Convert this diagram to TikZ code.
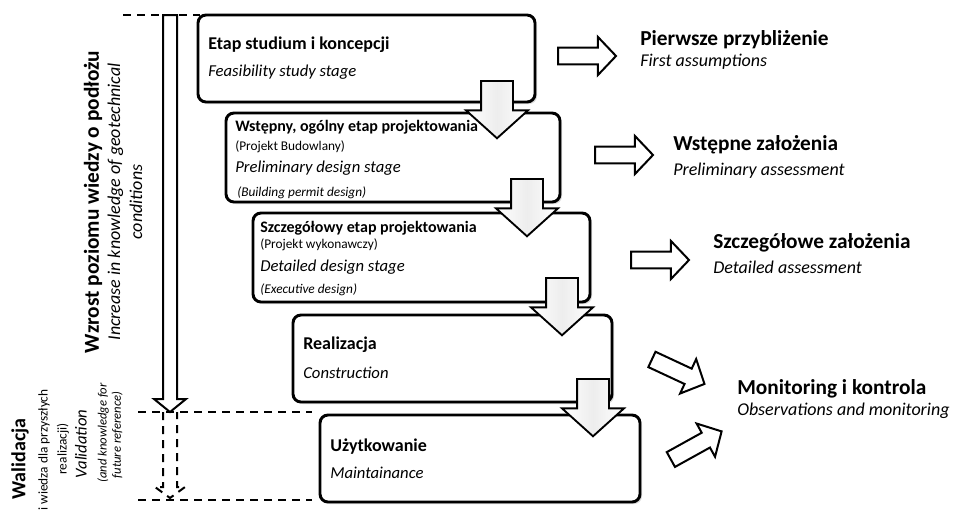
\documentclass[tikz,border=0pt]{standalone}
\usepackage{fontspec}
\setmainfont{Carlito}
\usetikzlibrary{shapes.arrows, shadows}

\begin{document}
\begin{tikzpicture}[x=0.75pt, y=-0.75pt,
        % Stage boxes
        stagebox/.style={draw, rounded corners=6pt, line width=2.2pt, fill=white,
                drop shadow={shadow xshift=1.5pt, shadow yshift=-1.5pt, opacity=0.3}},
        % Flow arrow between stages
        flowarr/.style={single arrow, draw, line width=1.4pt, rotate=-90,
                anchor=tail, minimum height=43pt, inner xsep=0pt, inner ysep=11.25pt,
                single arrow head extend=11.25pt, single arrow tip angle=96,
                left color=white, right color=white, middle color=gray!14},
        % Output arrow
        outarr/.style={single arrow, draw, line width=1.5pt, fill=white, anchor=tail,
                minimum height=43.5pt, inner xsep=0pt, inner ysep=5.6pt,
                single arrow head extend=7.9pt, single arrow tip angle=93},
        % Texts
        title/.style={anchor=west, inner sep=0pt, font=\fontsize{13.5pt}{16pt}\selectfont\bfseries},
        outtitle/.style={anchor=west, inner sep=0pt, font=\fontsize{16pt}{19pt}\selectfont\bfseries},
        subtitle/.style={anchor=west, inner sep=0pt, font=\fontsize{12pt}{14pt}\selectfont\bfseries},
        eng/.style={anchor=west, inner sep=0pt, font=\fontsize{12.5pt}{15pt}\selectfont\itshape},
        engbig/.style={anchor=west, inner sep=0pt, font=\fontsize{13.5pt}{16pt}\selectfont\itshape},
        note/.style={anchor=west, inner sep=0pt, font=\fontsize{10pt}{12pt}\selectfont},
        noteit/.style={anchor=west, inner sep=0pt, font=\fontsize{10pt}{12pt}\selectfont\itshape},
        sidelabel/.style={rotate=90, inner sep=0pt, align=center},
        guide/.style={dashed, dash pattern=on 6pt off 4.5pt, line width=1.5pt}
    ]
    \useasboundingbox (0,0) rectangle (953,515);

    % Stages
    \node[stagebox, minimum width=252.75pt, minimum height=65.25pt] (s1) at (366.5,58.5) {};
    \node[stagebox, minimum width=250.5pt, minimum height=66.75pt] (s2) at (393,157.5) {};
    \node[stagebox, minimum width=252.75pt, minimum height=66.75pt] (s3) at (421.5,257.5) {};
    \node[stagebox, minimum width=239.25pt, minimum height=65.25pt] (s4) at (452.5,358.5) {};
    \node[stagebox, minimum width=240pt, minimum height=65.25pt] (s5) at (480,458.5) {};

    % Stage texts
    \node[title] (t1) at (208,45) {Etap studium i koncepcji};
    \node[eng] (e1) at (208,72) {Feasibility study stage};

    \node[subtitle] (t2) at (235,127) {Wstępny, ogólny etap projektowania};
    \node[note] (p2) at (235,147) {(Projekt Budowlany)};
    \node[eng] (e2) at (235,168) {Preliminary design stage};
    \node[noteit] (q2) at (237,193) {(Building permit design)};

    \node[subtitle] (t3) at (260,228) {Szczegółowy etap projektowania};
    \node[note] (p3) at (260,245) {(Projekt wykonawczy)};
    \node[eng] (e3) at (260,267) {Detailed design stage};
    \node[noteit] (q3) at (260,290) {(Executive design)};

    \node[title] (t4) at (303,345) {Realizacja};
    \node[eng] (e4) at (303,373) {Construction};

    \node[title] (t5) at (330,447) {Użytkowanie};
    \node[eng] (e5) at (330,473) {Maintainance};

    % Flow arrows
    \node[flowarr] (a1) at (497,80) {};
    \node[flowarr] (a2) at (527,178) {};
    \node[flowarr] (a3) at (562,277) {};
    \node[flowarr] (a4) at (593,378) {};

    % Outputs
    \node[outarr] (r1) at (557,56) {};
    \node[outarr] (r2) at (594,155) {};
    \node[outarr] (r3) at (630,260) {};
    \node[outarr, rotate=-25] (m1) at (651,359) {};
    \node[outarr, rotate=29] (m2) at (670,460) {};

    \node[outtitle] (o1) at (640,40) {Pierwsze przybliżenie};
    \node[engbig] (f1) at (640,62) {First assumptions};
    \node[outtitle] (o2) at (673,145) {Wstępne założenia};
    \node[engbig] (f2) at (673,171) {Preliminary assessment};
    \node[outtitle] (o3) at (713,243) {Szczegółowe założenia};
    \node[engbig] (f3) at (713,267) {Detailed assessment};
    \node[outtitle] (o4) at (737,389) {Monitoring i kontrola};
    \node[engbig] (f4) at (737,411) {Observations and monitoring};

    % Knowledge axis
    \coordinate (kMid) at (170,412);
    \draw[guide] (123,15) -- (200,15);
    \draw[guide] (138,412) -- (312,412);
    \draw[guide] (138,500) -- (312,500);
    \draw[line width=1.5pt, line join=miter]
        (163,15) -- (163,399) -- (154,399) -- (kMid) -- (186,399) -- (177,399) -- (177,15) -- cycle;
    \draw[guide, line join=miter]
        (163,412) -- (163,487) -- (155,487) -- (170,498) -- (185,487) -- (177,487) -- (177,412);

    % Side labels
    \node[sidelabel, font=\fontsize{16pt}{19pt}\selectfont\bfseries] (k1) at (93,202)
        {Wzrost poziomu wiedzy o podłożu};
    \node[sidelabel, font=\fontsize{13.5pt}{16.5pt}\selectfont\itshape] (k2) at (125,202)
        {Increase in knowledge of geotechnical\\conditions};

    \node[sidelabel, font=\fontsize{15pt}{18pt}\selectfont\bfseries] (v1) at (20,459) {Walidacja};
    \node[sidelabel, font=\fontsize{10pt}{12pt}\selectfont] (v2) at (44,450) {i wiedza dla przyszłych};
    \node[sidelabel, font=\fontsize{10pt}{12pt}\selectfont] (v3) at (63,449) {realizacji)};
    \node[sidelabel, font=\fontsize{12.5pt}{15pt}\selectfont\itshape] (v4) at (81,444) {Validation};
    \node[sidelabel, font=\fontsize{9.5pt}{11pt}\selectfont\itshape] (v5) at (103,433) {(and knowledge for};
    \node[sidelabel, font=\fontsize{9.5pt}{11pt}\selectfont\itshape] (v6) at (117,435) {future reference)};

\end{tikzpicture}
\end{document}
